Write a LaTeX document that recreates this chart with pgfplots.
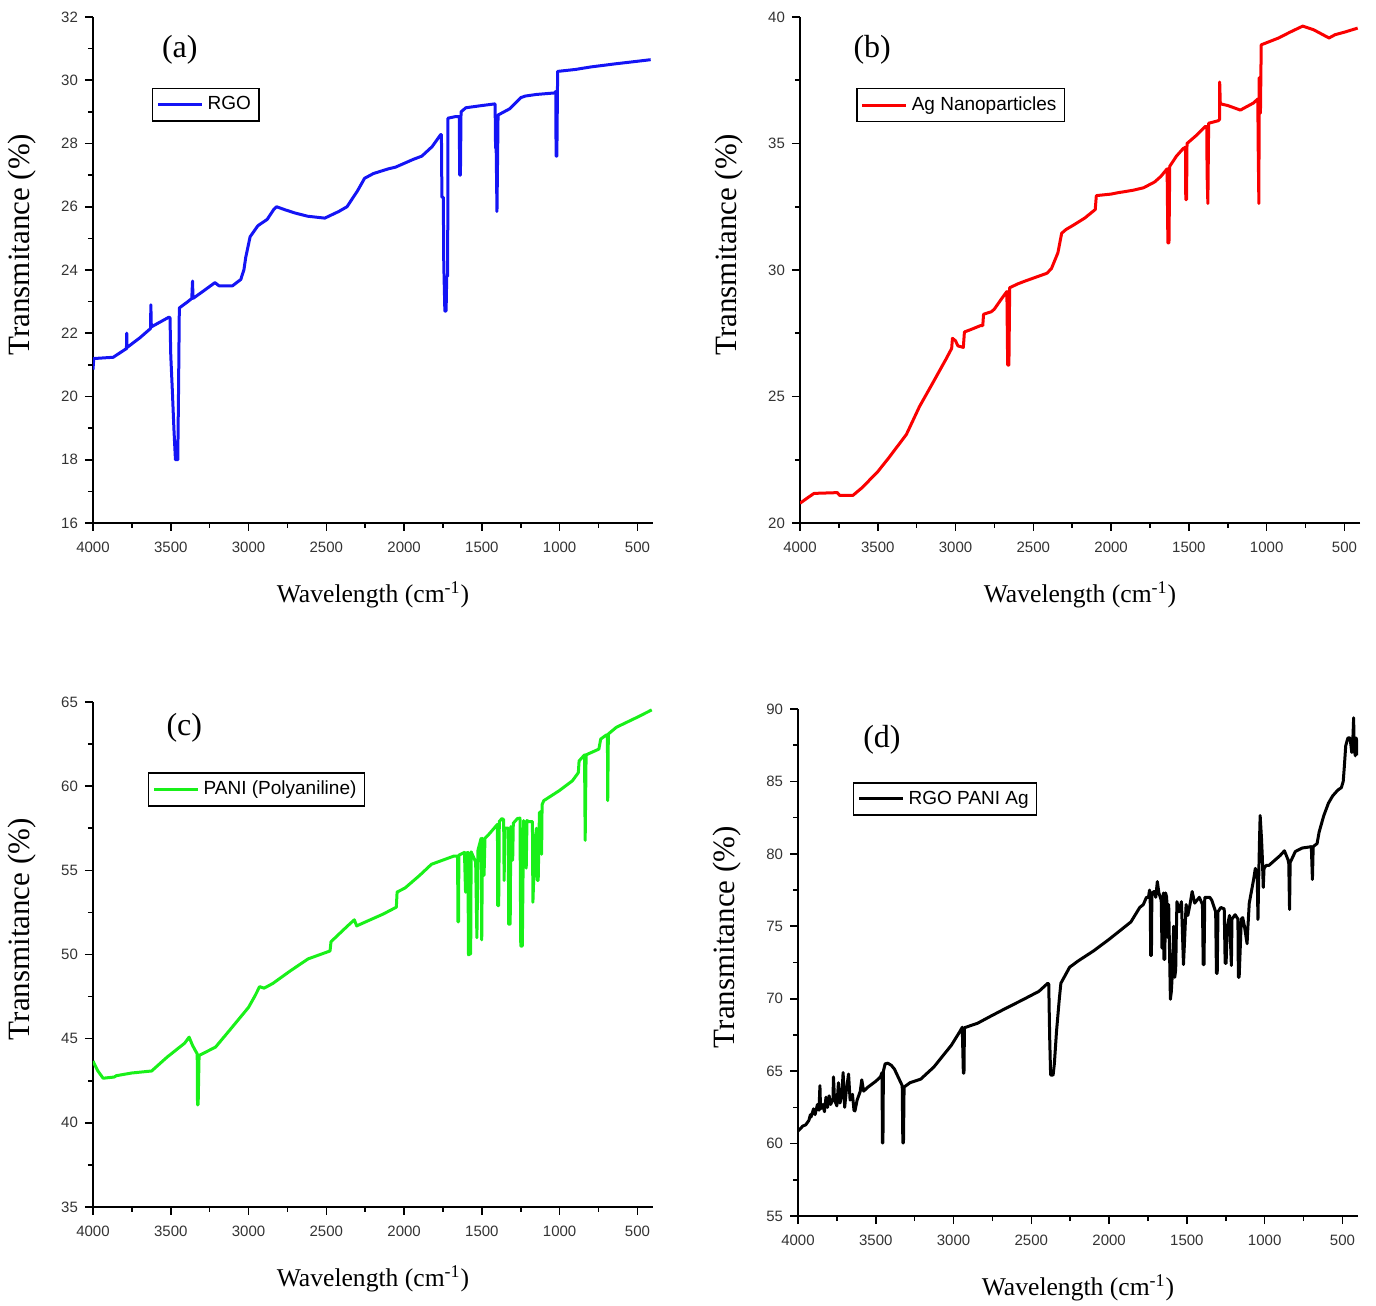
\documentclass[border=0pt]{standalone}
\usepackage{pgfplots}
\pgfplotsset{compat=1.18}
\usepackage{fontspec}
\setmainfont{Liberation Sans}
\newfontfamily\serifL{Liberation Serif}

\definecolor{cblue}{RGB}{20,20,245}
\definecolor{cred}{RGB}{250,0,0}
\definecolor{cgreen}{RGB}{25,240,25}

\pgfplotsset{
  ftir/.style={
    scale only axis, width=280pt, height=253pt,
    x dir=reverse, xmin=400, xmax=4000,
    xtick={500,1000,...,4000},
    minor x tick num=1, minor y tick num=1,
    axis lines=left, axis line style={-, line width=0.8pt},
    every outer x axis line/.append style={-},
    every outer y axis line/.append style={-},
    tick align=outside,
    major tick length=4pt, minor tick length=2.5pt,
    every tick/.style={black, line width=0.8pt},
    tick label style={font=\fontsize{7.5}{9}\selectfont, text=black!80},
    xticklabel style={yshift=-2pt},
    /pgf/number format/assume math mode=true,
    /pgf/number format/1000 sep={},
    xlabel={Wavelength (cm\textsuperscript{-1})}, ylabel={Transmitance (\%)},
    xlabel style={font=\serifL\fontsize{12.8}{15}\selectfont, at={(axis description cs:0.5,-0.142)}, anchor=center},
    ylabel style={font=\serifL\fontsize{15.5}{18}\selectfont, at={(axis description cs:-0.127,0.55)}, anchor=center},
    legend style={anchor=north west, draw=black, line width=0.8pt, font=\fontsize{9.5}{11}\selectfont, inner xsep=2pt, inner ysep=2pt, cells={anchor=west}},
    legend image code/.code={\draw[#1] (0pt,0pt) -- (22pt,0pt);},
  },
  plt/.style={line width=1.5pt, line join=round, no marks},
}

\begin{document}
\begin{tikzpicture}
\useasboundingbox (0,0) rectangle (688pt,653pt);

% (a) RGO
\begin{axis}[ftir, at={(46.5pt,391.5pt)}, anchor=south west,
  ymin=16, ymax=32, ytick={16,18,...,32},
  legend style={at={(axis description cs:0.105,0.86)}}]
\addplot[plt, cblue] coordinates {
(4000,20.85) (3995,21.2) (3870,21.24) (3790,21.5) (3785,21.5) (3783,22.0) (3781,21.55)
(3700,21.85) (3630,22.15) (3628,22.9) (3625,22.2) (3515,22.5) (3505,22.5) (3500,21.3)
(3490,20.2) (3480,19.0) (3470,18.0) (3455,18.0) (3450,20.2) (3445,22.8) (3390,23.0)
(3365,23.1) (3360,23.65) (3357,23.1) (3300,23.3) (3216,23.6) (3190,23.5) (3103,23.5)
(3050,23.7) (3030,24.0) (3018,24.4) (2990,25.05) (2940,25.4) (2880,25.6) (2840,25.9)
(2820,26.0) (2763,25.9) (2700,25.8) (2620,25.7) (2510,25.64) (2420,25.85) (2367,26.0)
(2300,26.5) (2254,26.9) (2197,27.05) (2100,27.2) (2056,27.25) (1940,27.5) (1886,27.6)
(1820,27.9) (1765,28.28) (1760,28.28) (1757,26.3) (1748,26.3) (1745,24.2) (1738,22.7)
(1730,22.7) (1726,23.8) (1720,23.8) (1718,28.8) (1670,28.85) (1645,28.85) (1643,27.0)
(1638,27.0) (1634,29.0) (1603,29.13) (1500,29.2) (1420,29.25) (1415,29.25) (1412,27.85)
(1408,27.85) (1403,25.85) (1398,28.0) (1396,28.9) (1320,29.1) (1250,29.45) (1221,29.5)
(1150,29.55) (1030,29.6) (1025,29.65) (1023,27.6) (1018,27.6) (1013,30.28) (900,30.34)
(800,30.42) (640,30.52) (500,30.6) (415,30.65)
};
\addlegendentry{RGO}
\node[font=\serifL\fontsize{16}{18}\selectfont] at (axis description cs:0.155,0.935) {(a)};
\end{axis}

% (b) Ag
\begin{axis}[ftir, at={(400pt,391.5pt)}, anchor=south west,
  ymin=20, ymax=40, ytick={20,25,...,40},
  legend style={at={(axis description cs:0.1,0.86)}}]
\addplot[plt, cred] coordinates {
(4000,20.78) (3950,21.0) (3910,21.17) (3760,21.2) (3745,21.09) (3660,21.09) (3600,21.4)
(3500,22.03) (3430,22.57) (3316,23.5) (3232,24.6) (3147,25.53) (3062,26.47) (3025,26.9)
(3020,27.3) (3000,27.2) (2985,27.0) (2950,26.94) (2943,27.55) (2900,27.65) (2840,27.8)
(2825,27.8) (2820,28.25) (2770,28.35) (2751,28.45) (2700,28.9) (2670,29.15) (2665,26.24)
(2657,26.24) (2652,29.3) (2600,29.45) (2554,29.56) (2413,29.87) (2384,30.05) (2342,30.68)
(2318,31.45) (2290,31.6) (2243,31.77) (2170,32.05) (2102,32.39) (2095,32.94) (2000,33.0)
(1960,33.05) (1860,33.15) (1791,33.25) (1720,33.48) (1680,33.7) (1640,34.0) (1635,31.07)
(1628,31.07) (1623,34.1) (1580,34.5) (1537,34.8) (1522,34.85) (1520,32.78) (1515,32.78)
(1512,35.0) (1452,35.32) (1395,35.67) (1385,35.67) (1383,33.8) (1378,32.63) (1373,35.8)
(1311,35.9) (1303,35.95) (1302,37.43) (1298,36.57) (1250,36.5) (1169,36.32) (1085,36.6)
(1057,36.76) (1054,34.6) (1050,32.63) (1048,37.6) (1042,37.6) (1040,36.2) (1035,38.9)
(923,39.17) (850,39.4) (768,39.64) (700,39.5) (669,39.4) (599,39.17) (560,39.3)
(500,39.4) (415,39.56)
};
\addlegendentry{Ag Nanoparticles}
\node[font=\serifL\fontsize{16}{18}\selectfont] at (axis description cs:0.129,0.935) {(b)};
\end{axis}

% (c) PANI
\begin{axis}[ftir, at={(46.5pt,49.5pt)}, anchor=south west, height=252.5pt,
  ymin=35, ymax=65, ytick={35,40,...,65},
  legend style={at={(axis description cs:0.098,0.861)}}]
\addplot[plt, cgreen] coordinates {
(4000,43.67) (3970,43.1) (3935,42.65) (3864,42.72) (3850,42.8) (3751,42.96) (3623,43.08)
(3524,43.9) (3411,44.73) (3382,45.09) (3360,44.6) (3340,44.26) (3330,44.1) (3328,41.07)
(3324,41.07) (3318,44.0) (3212,44.5) (3127,45.44) (3000,46.86) (2957,47.57) (2929,48.09)
(2900,48.0) (2844,48.28) (2731,49.03) (2617,49.74) (2476,50.21) (2470,50.76) (2363,51.7)
(2320,52.06) (2305,51.7) (2135,52.4) (2050,52.81) (2045,53.71) (1994,53.95) (1900,54.7)
(1824,55.36) (1682,55.84) (1656,55.84) (1654,51.94) (1650,51.94) (1648,55.9) (1612,56.07)
(1605,53.7) (1600,56.0) (1590,56.07) (1586,49.98) (1572,50.05) (1569,56.1) (1540,55.5)
(1532,51.0) (1525,56.2) (1505,56.9) (1501,50.87) (1496,56.9) (1486,54.7) (1480,56.9)
(1456,57.13) (1400,57.73) (1398,52.9) (1392,52.9) (1388,57.9) (1371,58.08) (1360,58.0)
(1357,54.4) (1352,57.5) (1330,57.5) (1328,51.8) (1318,51.8) (1314,57.6) (1302,55.6)
(1298,57.8) (1271,58.08) (1255,58.1) (1250,50.5) (1240,50.5) (1232,57.96) (1215,55.13)
(1210,57.96) (1201,57.9) (1175,57.9) (1172,53.1) (1165,55.0) (1150,57.5) (1144,54.4)
(1138,54.4) (1130,58.43) (1118,58.5) (1116,55.95) (1113,58.9) (1102,59.14) (1003,59.73)
(918,60.32) (880,60.8) (875,61.5) (840,61.86) (836,56.78) (830,61.86) (748,62.2)
(736,62.8) (700,63.04) (693,63.04) (691,59.14) (687,63.1) (635,63.5) (500,64.1) (408,64.53)
};
\addlegendentry{PANI (Polyaniline)}
\node[font=\serifL\fontsize{16}{18}\selectfont] at (axis description cs:0.163,0.948) {(c)};
\end{axis}

% (d) RGO PANI Ag
\begin{axis}[ftir, at={(399pt,45pt)}, anchor=south west, height=253.5pt,
  ymin=55, ymax=90, ytick={55,60,...,90},
  legend style={at={(axis description cs:0.098,0.856)}}]
\addplot[plt, black] coordinates {
(4000,60.87) (3970,61.2) (3950,61.3) (3930,61.6) (3920,62.0) (3916,61.83) (3900,62.4)
(3890,62.0) (3875,62.7) (3865,62.3) (3859,64.0) (3855,62.4) (3840,62.7) (3830,62.2)
(3820,63.2) (3810,62.5) (3800,63.3) (3790,62.7) (3775,63.1) (3772,64.6) (3765,63.0)
(3750,62.6) (3740,64.2) (3730,62.8) (3718,63.35) (3710,64.9) (3700,62.5) (3690,63.6)
(3675,64.8) (3665,63.0) (3650,63.4) (3640,62.3) (3634,62.25) (3620,63.0) (3600,63.6)
(3590,64.4) (3578,63.62) (3550,63.9) (3500,64.3) (3470,64.6) (3460,64.9) (3457,60.04)
(3454,60.04) (3451,65.0) (3440,65.5) (3423,65.55) (3400,65.4) (3380,65.14) (3338,64.18)
(3330,64.0) (3326,60.04) (3322,60.04) (3318,63.9) (3280,64.2) (3211,64.45) (3127,65.28)
(3014,66.79) (2958,67.76) (2944,68.03) (2937,64.86) (2933,64.86) (2930,68.0) (2902,68.1)
(2845,68.31) (2760,68.8) (2676,69.27) (2560,69.9) (2451,70.51) (2394,71.07) (2388,71.0)
(2382,67.3) (2376,64.73) (2360,64.73) (2352,65.5) (2338,67.76) (2320,70.0) (2310,71.07)
(2254,72.17) (2200,72.6) (2100,73.3) (2000,74.1) (1888,75.06) (1860,75.3) (1803,76.3)
(1780,76.5) (1760,77.0) (1747,76.99) (1740,77.5) (1735,76.5) (1733,72.99) (1728,72.99)
(1725,77.3) (1710,77.4) (1700,77.0) (1690,78.09) (1680,77.3) (1665,76.8) (1660,73.5)
(1655,77.0) (1650,77.3) (1648,72.72) (1642,72.72) (1637,77.3) (1630,77.0) (1622,74.23)
(1617,76.5) (1606,69.96) (1600,70.5) (1592,72.0) (1585,75.0) (1578,71.48) (1572,72.0)
(1564,76.7) (1550,76.0) (1535,76.7) (1522,72.36) (1515,74.0) (1505,76.5) (1494,75.75)
(1480,76.5) (1466,77.4) (1450,76.6) (1420,77.0) (1400,76.5) (1395,72.36) (1390,72.36)
(1385,77.0) (1353,77.0) (1340,76.8) (1315,76.0) (1310,71.75) (1305,71.75) (1300,76.0)
(1282,76.3) (1260,76.2) (1254,72.44) (1248,72.44) (1240,75.0) (1226,75.75) (1214,72.3)
(1210,75.5) (1190,75.8) (1172,75.5) (1169,71.48) (1164,71.48) (1150,75.5) (1141,75.6)
(1130,75.0) (1113,73.8) (1110,74.5) (1099,76.6) (1071,78.23) (1060,79.0) (1048,78.5)
(1043,75.47) (1039,78.0) (1033,81.0) (1029,82.64) (1020,81.0) (1015,79.75) (1009,77.68)
(1004,79.0) (990,79.2) (973,79.2) (901,79.88) (873,80.21) (850,79.6) (845,79.33)
(840,76.16) (836,79.4) (803,80.16) (760,80.4) (704,80.49) (700,80.5) (693,78.23)
(688,80.5) (663,80.71) (650,81.5) (620,82.64) (590,83.5) (563,84.0) (530,84.4)
(507,84.57) (495,85.0) (488,86.0) (479,87.46) (465,88.0) (451,88.0) (440,87.0)
(432,88.2) (428,89.39) (425,87.2) (417,86.77) (412,88.0) (408,87.8) (405,86.8)
};
\addlegendentry{RGO PANI Ag}
\node[font=\serifL\fontsize{16}{18}\selectfont] at (axis description cs:0.150,0.939) {(d)};
\end{axis}
\end{tikzpicture}
\end{document}
